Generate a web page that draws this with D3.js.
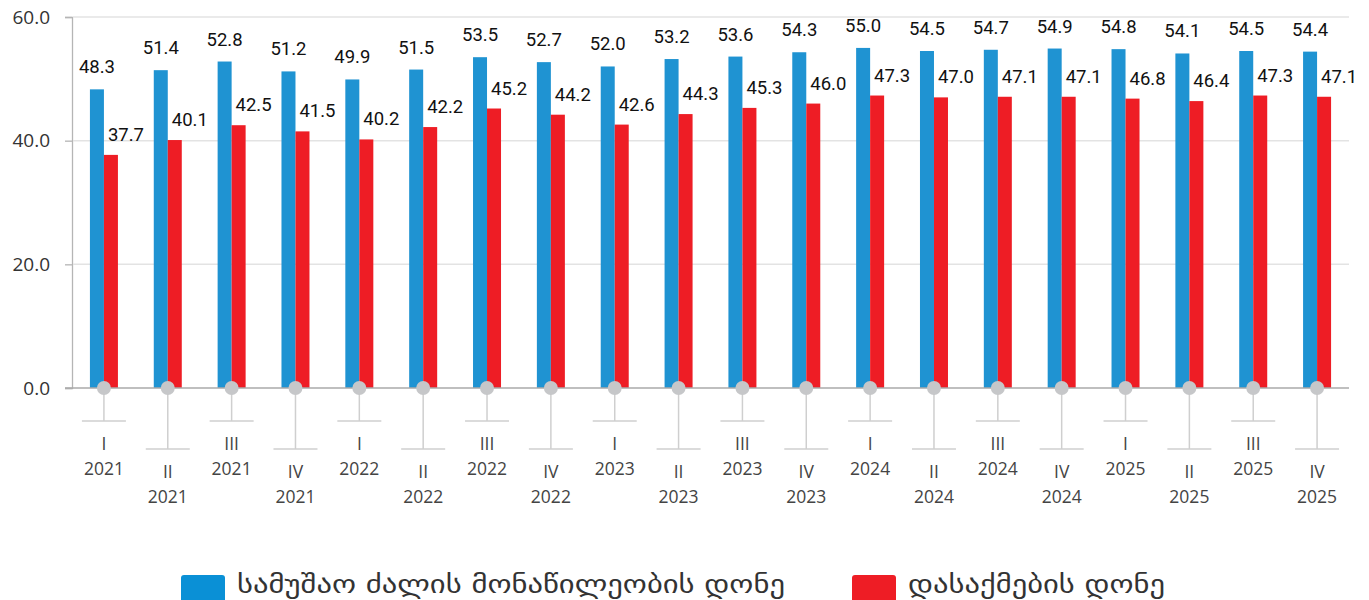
<!DOCTYPE html>
<html>
<head>
<meta charset="utf-8">
<script src="https://cdn.jsdelivr.net/npm/d3@7/dist/d3.min.js"></script>
<style>
  html, body { margin: 0; padding: 0; background: #ffffff; }
  svg { display: block; }
</style>
</head>
<body>
<svg id="chart" width="1369" height="600"></svg>
<script>
// Quarterly labour force participation and employment rates
const quarters = ["I","II","III","IV","I","II","III","IV","I","II","III","IV","I","II","III","IV","I","II","III","IV"];
const years = ["2021","2021","2021","2021","2022","2022","2022","2022","2023","2023","2023","2023","2024","2024","2024","2024","2025","2025","2025","2025"];
const participation = [48.3,51.4,52.8,51.2,49.9,51.5,53.5,52.7,52.0,53.2,53.6,54.3,55.0,54.5,54.7,54.9,54.8,54.1,54.5,54.4];
const employment = [37.7,40.1,42.5,41.5,40.2,42.2,45.2,44.2,42.6,44.3,45.3,46.0,47.3,47.0,47.1,47.1,46.8,46.4,47.3,47.1];
const yTicks = [0, 20, 40, 60];
const seriesNames = ["სამუშაო ძალის მონაწილეობის დონე", "დასაქმების დონე"];
const seriesColors = ["#1f93d2", "#ee1d25"];
const legendColors = ["#0a90d6", "#ee1d25"];

const svg = d3.select("#chart");
const plotLeft = 72, plotRight = 1349, plotTop = 17, plotBottom = 388;
const idx = d3.range(quarters.length);

const x = d3.scaleBand().domain(idx).range([plotLeft, plotRight]).padding(0);
const y = d3.scaleLinear().domain([0, 60]).range([plotBottom, plotTop]);
const barW = 14;
const cx = i => x(i) + x.bandwidth() / 2;

// gridlines and y axis
const yAxis = d3.axisLeft(y).tickValues(yTicks).tickFormat(d3.format(".1f"))
  .tickSize(7).tickPadding(15);
const gy = svg.append("g").attr("transform", `translate(${plotLeft},0)`).call(yAxis);
gy.select(".domain").attr("stroke", "#b5b5b5").attr("stroke-width", 1.3);
gy.selectAll(".tick line").attr("stroke", "#b5b5b5").attr("stroke-width", 1.3);
gy.selectAll(".tick text")
  .attr("font-family", "'Open Sans', sans-serif")
  .attr("font-size", 19).attr("fill", "#333");

svg.append("g").selectAll("line").data(yTicks.filter(d => d > 0)).join("line")
  .attr("x1", plotLeft + 1).attr("x2", plotRight)
  .attr("y1", d => y(d)).attr("y2", d => y(d))
  .attr("stroke", "#e3e3e3").attr("stroke-width", 1.5);

// bars
svg.append("g").selectAll("rect").data(idx).join("rect")
  .attr("x", i => cx(i) - barW).attr("width", barW)
  .attr("y", i => y(participation[i])).attr("height", i => y(0) - y(participation[i]))
  .attr("fill", seriesColors[0]);
svg.append("g").selectAll("rect").data(idx).join("rect")
  .attr("x", i => cx(i)).attr("width", barW)
  .attr("y", i => y(employment[i])).attr("height", i => y(0) - y(employment[i]))
  .attr("fill", seriesColors[1]);

// value labels
const labelFont = "Roboto, sans-serif";
svg.append("g").selectAll("text").data(idx).join("text")
  .attr("x", i => cx(i) - barW / 2).attr("y", i => y(participation[i]) - 16)
  .attr("text-anchor", "middle").attr("font-family", labelFont)
  .attr("font-size", 18.5).attr("fill", "#111")
  .text(i => participation[i].toFixed(1));
svg.append("g").selectAll("text").data(idx).join("text")
  .attr("x", i => cx(i) + barW / 2 + 15).attr("y", i => y(employment[i]) - 14)
  .attr("text-anchor", "middle").attr("font-family", labelFont)
  .attr("font-size", 18.5).attr("fill", "#111")
  .text(i => employment[i].toFixed(1));

// baseline
svg.append("line").attr("x1", plotLeft - 7).attr("x2", plotRight)
  .attr("y1", y(0)).attr("y2", y(0))
  .attr("stroke", "#aaaaaa").attr("stroke-width", 1.5);

// category markers with staggered labels
const cat = svg.append("g").selectAll("g").data(idx).join("g")
  .attr("transform", i => `translate(${cx(i)},0)`);
const stemEnd = i => i % 2 === 0 ? 421 : 449;
cat.append("line").attr("x1", 0).attr("x2", 0)
  .attr("y1", y(0)).attr("y2", stemEnd)
  .attr("stroke", "#cfcfcf").attr("stroke-width", 1.5);
cat.append("line").attr("x1", -22).attr("x2", 22)
  .attr("y1", stemEnd).attr("y2", stemEnd)
  .attr("stroke", "#cfcfcf").attr("stroke-width", 1.5);
cat.append("circle").attr("cx", 0).attr("cy", y(0)).attr("r", 7)
  .attr("fill", "#c6c7c9");
const catText = cat.append("text")
  .attr("text-anchor", "middle").attr("font-family", "'Open Sans', sans-serif")
  .attr("font-size", 17.5).attr("fill", "#444");
catText.append("tspan").attr("x", 0).attr("y", i => stemEnd(i) + 29).text(i => quarters[i]);
catText.append("tspan").attr("x", 0).attr("y", i => stemEnd(i) + 54).text(i => years[i]);

// legend
const legendItems = [
  { sx: 181, tx: 237, w: 548 },
  { sx: 852, tx: 908, w: 257 }
];
const lg = svg.append("g").selectAll("g").data(legendItems).join("g");
lg.append("rect").attr("x", d => d.sx).attr("y", 575).attr("width", 44).attr("height", 30)
  .attr("rx", 3).attr("fill", (d, i) => legendColors[i]);
lg.append("text").attr("x", d => d.tx).attr("y", 593)
  .attr("font-family", "'DejaVu Sans', sans-serif").attr("font-size", 25)
  .attr("fill", "#333")
  .attr("textLength", d => d.w).attr("lengthAdjust", "spacingAndGlyphs")
  .text((d, i) => seriesNames[i]);
</script>
</body>
</html>
